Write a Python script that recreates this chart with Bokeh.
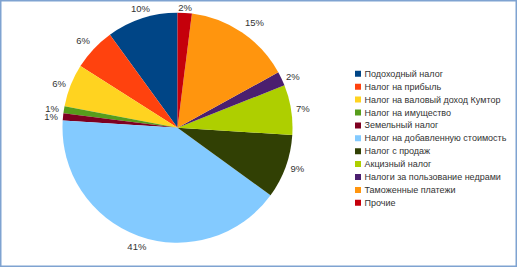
import math
from bokeh.plotting import figure
from bokeh.models import Range1d, ColumnDataSource
from bokeh.core.properties import value
from bokeh.embed import file_html
from bokeh.resources import INLINE

categories = [
    "Подоходный налог",
    "Налог на прибыль",
    "Налог на валовый доход Кумтор",
    "Налог на имущество",
    "Земельный налог",
    "Налог на добавленную стоимость",
    "Налог с продаж",
    "Акцизный налог",
    "Налоги за пользование недрами",
    "Таможенные платежи",
    "Прочие",
]
shares = [10, 6, 6, 1, 1, 41, 9, 7, 2, 15, 2]
colors = ["#004586", "#ff420e", "#ffd320", "#579d1c", "#7e0021", "#83caff",
          "#314004", "#aecf00", "#4b1f6f", "#ff950e", "#c5000b"]

W, H = 517, 267
FONT = "Liberation Sans"
TXT = "#333333"

p = figure(width=W, height=H, output_backend="svg", toolbar_location=None,
           x_range=Range1d(0, W), y_range=Range1d(0, H),
           min_border=0, background_fill_color="white", border_fill_color="white")
p.axis.visible = False
p.grid.visible = False
p.outline_line_color = "#7fa3d1"
p.outline_line_width = 2

cx, cy, r = 177.0, H - 127.2, 115.0

total = float(sum(shares))
starts, ends = [], []
a = math.pi / 2
for s in shares:
    starts.append(a)
    a += 2 * math.pi * s / total
    ends.append(a)

src = ColumnDataSource(dict(x=[cx] * len(shares), y=[cy] * len(shares),
                            start=starts, end=ends, color=colors))
p.wedge(x="x", y="y", radius=r, radius_units="screen", start_angle="start",
        end_angle="end", direction="anticlock", fill_color="color",
        line_color=None, source=src)

# percentage labels
lx, ly, lt, la, lb = [], [], [], [], []
R = r + 5
for s, st, en in zip(shares, starts, ends):
    m = (st + en) / 2
    c, sn = math.cos(m), math.sin(m)
    x = cx + R * c
    y = cy + R * sn
    align = "left" if c > 0.35 else ("right" if c < -0.35 else "center")
    base = "bottom" if sn > 0.6 else ("top" if sn < -0.6 else "middle")
    if base == "bottom":
        y = min(y, H - 12.5)
    lx.append(x); ly.append(y); lt.append(f"{round(s)}%"); la.append(align); lb.append(base)

p.text(x=lx, y=ly, text=lt, text_align=la, text_baseline=lb,
       text_font=value(FONT), text_font_size="9.5px", text_color=TXT)

# legend
leg_x0, leg_y0, pitch = 357.5, H - 73.3, 12.9
ys = [leg_y0 - i * pitch for i in range(len(categories))]
p.scatter(x=[leg_x0] * len(categories), y=ys, marker="square", size=6,
          fill_color=colors, line_color=None)
p.text(x=[leg_x0 + 6.5] * len(categories), y=ys, text=categories,
       text_align="left", text_baseline="middle",
       text_font=value(FONT), text_font_size="9px", text_color=TXT)

open("out.html", "w").write(file_html(p, INLINE))
